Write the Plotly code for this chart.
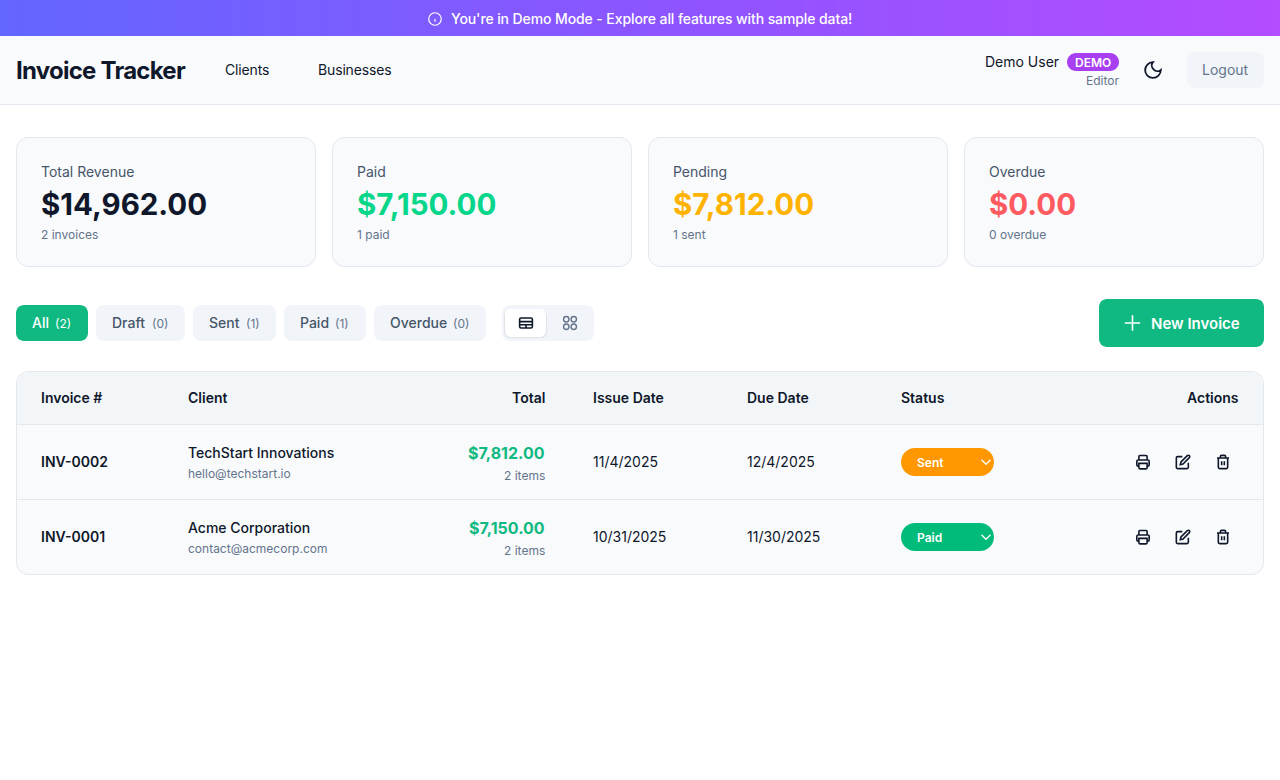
import plotly.graph_objects as go

# page content
banner_text = "You're in Demo Mode - Explore all features with sample data!"
banner_stops = [0, 0.5, 1]
banner_scale = [[0, "#6366FF"], [0.5, "#8B55FF"], [1, "#B44CFF"]]

nav_labels = ["Clients", "Businesses"]
nav_x = [225, 318]

card_labels = ["Total Revenue", "Paid", "Pending", "Overdue"]
card_values = ["$14,962.00", "$7,150.00", "$7,812.00", "$0.00"]
card_subs = ["2 invoices", "1 paid", "1 sent", "0 overdue"]
card_colors = ["#0F172A", "#06D68A", "#FFB300", "#FF5A5F"]
card_left = [16, 332, 648, 964]

tab_labels = ["All", "Draft", "Sent", "Paid", "Overdue"]
tab_counts = ["(2)", "(0)", "(1)", "(1)", "(0)"]
tab_left = [16, 96, 193, 284, 374]
tab_right = [88, 185, 276, 366, 486]
tab_count_x = [55, 152, 246, 335, 453]

table_headers = ["Invoice #", "Client", "Total", "Issue Date", "Due Date", "Status", "Actions"]
header_x = [41, 188, 545, 593, 747, 901, 1239]
header_anchor = ["left", "left", "right", "left", "left", "left", "right"]

invoice_ids = ["INV-0002", "INV-0001"]
client_names = ["TechStart Innovations", "Acme Corporation"]
client_mails = ["hello@techstart.io", "contact@acmecorp.com"]
invoice_totals = ["$7,812.00", "$7,150.00"]
invoice_items = ["2 items", "2 items"]
issue_dates = ["11/4/2025", "10/31/2025"]
due_dates = ["12/4/2025", "11/30/2025"]
statuses = ["Sent", "Paid"]
status_colors = ["#FF9800", "#00BB7A"]
row_centers = [462, 537]

FONT = "Inter, Roboto, sans-serif"
INK = "#0F172A"
SLATE = "#475569"
MUTED = "#64748B"
LINE = "#E2E8F0"
PANEL = "#F8FAFC"
CHIP = "#F1F5F9"
GREEN = "#10B981"

# icons in a 24 unit box, drawn as plain paths
ICON_PRINT = [
    "M", 6, 18, "H", 5, "C", 3.9, 18, 3, 17.1, 3, 16, "V", 11, "C", 3, 9.9, 3.9, 9, 5, 9,
    "H", 19, "C", 20.1, 9, 21, 9.9, 21, 11, "V", 16, "C", 21, 17.1, 20.1, 18, 19, 18, "H", 18,
    "M", 6, 9, "V", 4, "C", 6, 3, 7, 2.5, 7.5, 2.5, "H", 16.5, "C", 17, 2.5, 18, 3, 18, 4, "V", 9,
    "M", 6, 14, "H", 18, "V", 20, "C", 18, 21, 17, 22, 16, 22, "H", 8, "C", 7, 22, 6, 21, 6, 20, "Z",
]
ICON_EDIT = [
    "M", 11, 4, "H", 4, "C", 3, 4, 2, 5, 2, 6, "V", 20, "C", 2, 21, 3, 22, 4, 22,
    "H", 18, "C", 19, 22, 20, 21, 20, 20, "V", 13,
    "M", 18.5, 2.5, "C", 19.3, 1.7, 20.7, 1.7, 21.5, 2.5, "C", 22.3, 3.3, 22.3, 4.7, 21.5, 5.5,
    "L", 12, 15, "L", 8, 16, "L", 9, 12, "Z",
]
ICON_TRASH = [
    "M", 3, 6, "H", 21, "M", 19, 6, "V", 20, "C", 19, 21, 18, 22, 17, 22, "H", 7,
    "C", 6, 22, 5, 21, 5, 20, "V", 6, "M", 8, 6, "V", 4, "C", 8, 3, 9, 2, 10, 2, "H", 14,
    "C", 15, 2, 16, 3, 16, 4, "V", 6, "M", 10, 11, "V", 17, "M", 14, 11, "V", 17,
]
ICON_MOON = [
    "M", 12, 3, "C", 10, 5.4, 10.2, 9, 12.6, 11.4, "C", 15, 13.8, 18.6, 14, 21, 12,
    "C", 20.8, 17, 16.8, 21, 12, 21, "C", 7, 21, 3, 17, 3, 12, "C", 3, 7.2, 7, 3.2, 12, 3, "Z",
]
ICON_TABLE = [
    "M", 5, 5, "H", 19, "C", 20.1, 5, 21, 5.9, 21, 7, "V", 17, "C", 21, 18.1, 20.1, 19, 19, 19,
    "H", 5, "C", 3.9, 19, 3, 18.1, 3, 17, "V", 7, "C", 3, 5.9, 3.9, 5, 5, 5, "Z",
    "M", 3, 10, "H", 21, "M", 3, 14.5, "H", 21, "M", 12, 14.5, "V", 19,
]
ICON_CHEVRON = ["M", 6, 9, "L", 12, 15, "L", 18, 9]
ICON_PLUS = ["M", 4, 12, "H", 20, "M", 12, 4, "V", 20]


def circle_cmds(cx, cy, r):
    k = 0.5523 * r
    return [
        "M", cx + r, cy,
        "C", cx + r, cy + k, cx + k, cy + r, cx, cy + r,
        "C", cx - k, cy + r, cx - r, cy + k, cx - r, cy,
        "C", cx - r, cy - k, cx - k, cy - r, cx, cy - r,
        "C", cx + k, cy - r, cx + r, cy - k, cx + r, cy, "Z",
    ]


ICON_GRID = (
    circle_cmds(7, 7, 3.6) + circle_cmds(17, 7, 3.6)
    + circle_cmds(7, 17, 3.6) + circle_cmds(17, 17, 3.6)
)
ICON_INFO = circle_cmds(12, 12, 10) + ["M", 12, 16.5, "V", 11.5, "M", 12, 8, "V", 7.9]


def round_rect(x0, y0, x1, y1, r, bottom=True):
    k = r * 0.4477
    top = (
        f"M {x0} {y0 + r} C {x0} {y0 + k} {x0 + k} {y0} {x0 + r} {y0} "
        f"L {x1 - r} {y0} C {x1 - k} {y0} {x1} {y0 + k} {x1} {y0 + r} "
    )
    if not bottom:
        return top + f"L {x1} {y1} L {x0} {y1} Z"
    return top + (
        f"L {x1} {y1 - r} C {x1} {y1 - k} {x1 - k} {y1} {x1 - r} {y1} "
        f"L {x0 + r} {y1} C {x0 + k} {y1} {x0} {y1 - k} {x0} {y1 - r} Z"
    )


def icon_path(cmds, cx, cy, size):
    # scale a 24 unit icon to pixels; H takes x only, V takes y only
    s = size / 24
    out = []
    mode = "M"
    axis = 0
    for c in cmds:
        if isinstance(c, str):
            out.append(c)
            mode = c
            axis = 0
            continue
        if mode == "V" or (mode != "H" and axis % 2 == 1):
            out.append(str(round(cy + (c - 12) * s, 2)))
        else:
            out.append(str(round(cx + (c - 12) * s, 2)))
        axis += 1
    return " ".join(out)


fig = go.Figure()

# banner gradient, everything else sits on top of it
fig.add_trace(
    go.Heatmap(
        x=[0, 640, 1280],
        y=[0, 36],
        z=[banner_stops, banner_stops],
        colorscale=banner_scale,
        zsmooth="best",
        showscale=False,
        hoverinfo="skip",
    )
)


def box(x0, y0, x1, y1, fill, line=None, width=1):
    fig.add_shape(
        type="rect", x0=x0, y0=y0, x1=x1, y1=y1, fillcolor=fill,
        line=dict(color=line or fill, width=width if line else 0),
    )


def rbox(x0, y0, x1, y1, r, fill, line=None, width=1, bottom=True):
    fig.add_shape(
        type="path", path=round_rect(x0, y0, x1, y1, r, bottom), fillcolor=fill,
        line=dict(color=line or fill, width=width if line else 0),
    )


def icon(cmds, cx, cy, size, color, width=1.6):
    fig.add_shape(type="path", path=icon_path(cmds, cx, cy, size), line=dict(color=color, width=width))


def label(x, y, text, size=14, color=INK, weight=400, anchor="left", spacing=0):
    # annotations sit about a pixel inside their anchor, 14px text a bit low
    shift = {"left": -1, "right": 1, "center": 0}[anchor]
    if size == 14:
        y = y - 0.4
    if spacing:
        text = f'<span style="letter-spacing:{spacing}px">{text}</span>'
    fig.add_annotation(
        x=x + shift, y=y, text=text, showarrow=False, xanchor=anchor, yanchor="middle",
        borderpad=0, font=dict(family=FONT, size=size, color=color, weight=weight),
    )


# page background below the banner
box(0, 36, 1280, 780, "#FFFFFF")

# banner content
icon(ICON_INFO, 435, 19, 15, "#FFFFFF", 1.2)
label(651.5, 18.5, banner_text, 14, "#FFFFFF", 500, "center", spacing=-0.1)

# top bar
box(0, 36, 1280, 104, "#F9FAFC")
box(0, 104, 1280, 105, LINE)
label(16, 70, "Invoice Tracker", 24, INK, 700, spacing=-0.75)
for name, x in zip(nav_labels, nav_x):
    label(x, 70, name, 14, INK, 400, spacing=-0.15)
label(1059, 62, "Demo User", 14, INK, 400, "right")
rbox(1067, 53, 1119, 71, 9, "#A83FF0")
label(1093, 62, "DEMO", 12, "#FFFFFF", 600, "center")
label(1119, 80, "Editor", 12, MUTED, 400, "right")
icon(ICON_MOON, 1153, 70, 21, INK, 1.8)
rbox(1187, 52, 1264, 88, 8, CHIP)
label(1225.5, 70, "Logout", 14, MUTED, 400, "center")

# summary cards
for x, name, val, sub, col in zip(card_left, card_labels, card_values, card_subs, card_colors):
    rbox(x + 0.5, 137.5, x + 299.5, 266.5, 12, PANEL, LINE)
    label(x + 25, 172, name, 14, SLATE)
    label(x + 25, 204, val, 29.5, col, 750)
    label(x + 25, 234, sub, 12, MUTED)

# filter tabs
for i, name in enumerate(tab_labels):
    active = i == 0
    rbox(tab_left[i], 305, tab_right[i], 341, 8, GREEN if active else CHIP)
    label(tab_left[i] + 16, 323, name, 14, "#FFFFFF" if active else SLATE, 500)
    label(tab_count_x[i], 323.5, tab_counts[i], 12, "#FFFFFF" if active else MUTED)

# view switch
rbox(502, 305, 594, 341, 8, CHIP)
rbox(504, 310, 547, 338, 6, "rgba(15,23,42,0.08)")
rbox(505, 309, 546, 337, 6, "#FFFFFF")
icon(ICON_TABLE, 526, 323, 17, INK, 1.6)
icon(ICON_GRID, 570, 323, 18, MUTED, 1.4)

# new invoice button
rbox(1099, 299, 1264, 347, 8, GREEN)
icon(ICON_PLUS, 1132.5, 323, 23, "#FFFFFF", 1.6)
label(1151, 323, "New Invoice", 15, "#FFFFFF", 600)

# invoice table
rbox(16.5, 371.5, 1263.5, 574.5, 12, PANEL, LINE)
rbox(17, 372, 1263, 424, 11, "#F3F6F9", bottom=False)
box(17, 424, 1263, 425, LINE)
box(17, 499, 1263, 500, LINE)
for text, x, anchor in zip(table_headers, header_x, header_anchor):
    label(x, 398, text, 14, INK, 600, anchor)

for i, y in enumerate(row_centers):
    label(41, y, invoice_ids[i], 14, INK, 600)
    label(188, y - 9, client_names[i], 14, INK, 450)
    label(188, y + 11.5, client_mails[i], 12, MUTED)
    label(545, y - 9, invoice_totals[i], 16, GREEN, 700, "right")
    label(545, y + 13, invoice_items[i], 12, MUTED, 400, "right")
    label(593, y, issue_dates[i], 14, INK)
    label(747, y, due_dates[i], 14, INK)
    rbox(901, y - 14, 994, y + 14, 14, status_colors[i])
    label(917, y, statuses[i], 12, "#FFFFFF", 600)
    icon(ICON_CHEVRON, 986, y, 18, "#FFFFFF", 1.3)
    icon(ICON_PRINT, 1143, y, 16.5, INK)
    icon(ICON_EDIT, 1183, y, 16, INK)
    icon(ICON_TRASH, 1223, y, 16, INK)

fig.update_xaxes(visible=False, range=[0, 1280], fixedrange=True)
fig.update_yaxes(visible=False, range=[780, 0], fixedrange=True)
fig.update_layout(
    width=1280,
    height=780,
    margin=dict(l=0, r=0, t=0, b=0),
    paper_bgcolor="#FFFFFF",
    plot_bgcolor="#FFFFFF",
    showlegend=False,
)

fig.write_html(
    "out.html",
    config={"displayModeBar": False},
    post_script="document.body.style.margin='0';",
)
